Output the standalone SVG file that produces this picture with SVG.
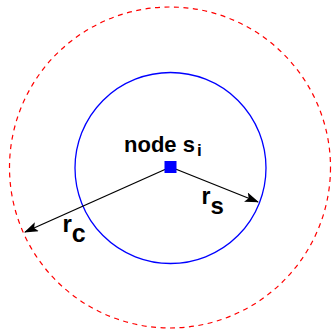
<svg xmlns="http://www.w3.org/2000/svg" width="333" height="333" viewBox="0 0 333 333">
<style>
.lbl{font-family:"Liberation Sans",Arial,sans-serif;font-weight:bold;fill:#000}
.edge{stroke:#000;stroke-width:1.3;fill:none;marker-end:url(#ah)}
</style>
<defs>
<marker id="ah" markerWidth="14" markerHeight="10" refX="13" refY="5" orient="auto" markerUnits="userSpaceOnUse">
<path d="M0,0 L14,5 L0,10 L3,5 Z" fill="#000"/>
</marker>
</defs>
<rect width="333" height="333" fill="#fff"/>
<g id="range-comm">
<circle cx="170" cy="167.5" r="160.5" fill="none" stroke="#ff0000" stroke-width="1.2" stroke-dasharray="5,4.5"/>
</g>
<g id="range-sense">
<circle cx="170.5" cy="168" r="95.5" fill="none" stroke="#0000ff" stroke-width="1.3"/>
</g>
<g id="connectors">
<line class="edge" x1="170.5" y1="167" x2="258" y2="202"/>
<line class="edge" x1="170.5" y1="167" x2="25" y2="232"/>
</g>
<g id="node-si">
<rect x="164.5" y="161" width="12" height="12" fill="#0000ff"/>
<text class="lbl" x="124" y="152" font-size="22">node s<tspan font-size="17" dy="4" dx="2">i</tspan></text>
</g>
<g id="label-rs">
<text class="lbl" x="201.5" y="204" font-size="23">r<tspan font-size="24" dy="10">s</tspan></text>
</g>
<g id="label-rc">
<text class="lbl" x="62.5" y="232" font-size="24">r<tspan font-size="25" dy="10">c</tspan></text>
</g>
</svg>
